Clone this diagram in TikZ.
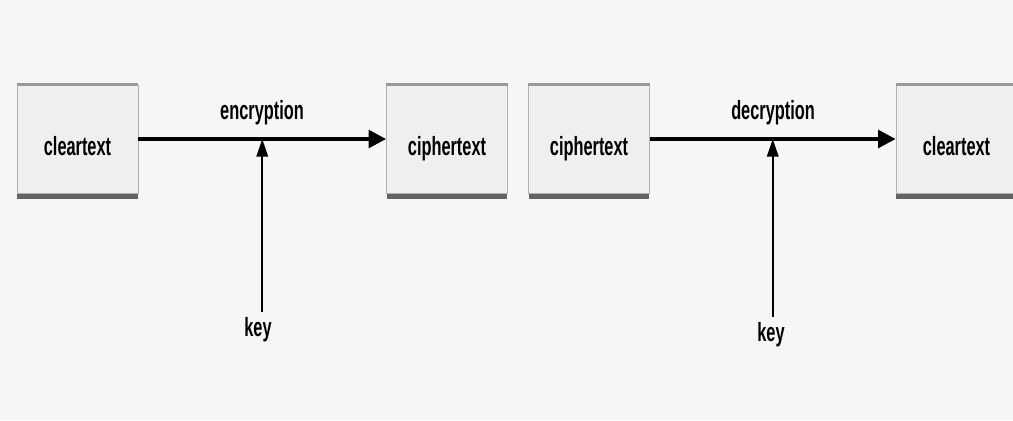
\documentclass[tikz,border=0pt]{standalone}
\usepackage{fontspec}
\setmainfont{Liberation Sans}[FakeStretch=0.62]
\usetikzlibrary{arrows.meta,shadows}
\definecolor{bgcol}{HTML}{F6F6F6}
\definecolor{boxcol}{HTML}{EFEFEF}
\tikzset{
  textbox/.style={draw=gray!60,line width=0.4pt,fill=boxcol,minimum width=2.42cm,minimum height=2.16cm,
    font=\fontsize{15}{17}\selectfont\bfseries,text height=0.66cm,text depth=0pt,
    drop shadow={shadow xshift=0pt,shadow yshift=-3.5pt,fill=black!80,opacity=0.75},
    append after command={(\tikzlastnode.north west) edge[draw=gray!80,line width=1.6pt] (\tikzlastnode.north east)}},
  flow/.style={line width=2.2pt,-{Triangle[length=10pt,width=10pt]}},
  keyflow/.style={line width=1.1pt,-{Triangle[length=10pt,width=6.5pt]}},
  lbl/.style={font=\fontsize{15}{17}\selectfont\bfseries}
}
\begin{document}
\begin{tikzpicture}[x=0.02cm,y=-0.02cm]
\fill[bgcol] (0,0) rectangle (1013,420);
\clip (0,0) rectangle (1013,420);
% encryption
\node[textbox] (clear1) at (77.5,139) {cleartext};
\node[textbox] (cipher1) at (447,139) {ciphertext};
\draw[flow] (clear1) -- (cipher1) coordinate[pos=0.5] (mid1);
\node[lbl] (enc) at (262,113) {encryption};
\node[lbl] (key1) at (258,330) {key};
\draw[keyflow] (key1.north -| mid1) -- (mid1);
% decryption
\node[textbox] (cipher2) at (589,139) {ciphertext};
\node[textbox] (clear2) at (956.5,139) {cleartext};
\draw[flow] (cipher2) -- (clear2) coordinate[pos=0.5] (mid2);
\node[lbl] (dec) at (773,113) {decryption};
\node[lbl] (key2) at (771,335) {key};
\draw[keyflow] (key2.north -| mid2) -- (mid2);
\end{tikzpicture}
\end{document}
